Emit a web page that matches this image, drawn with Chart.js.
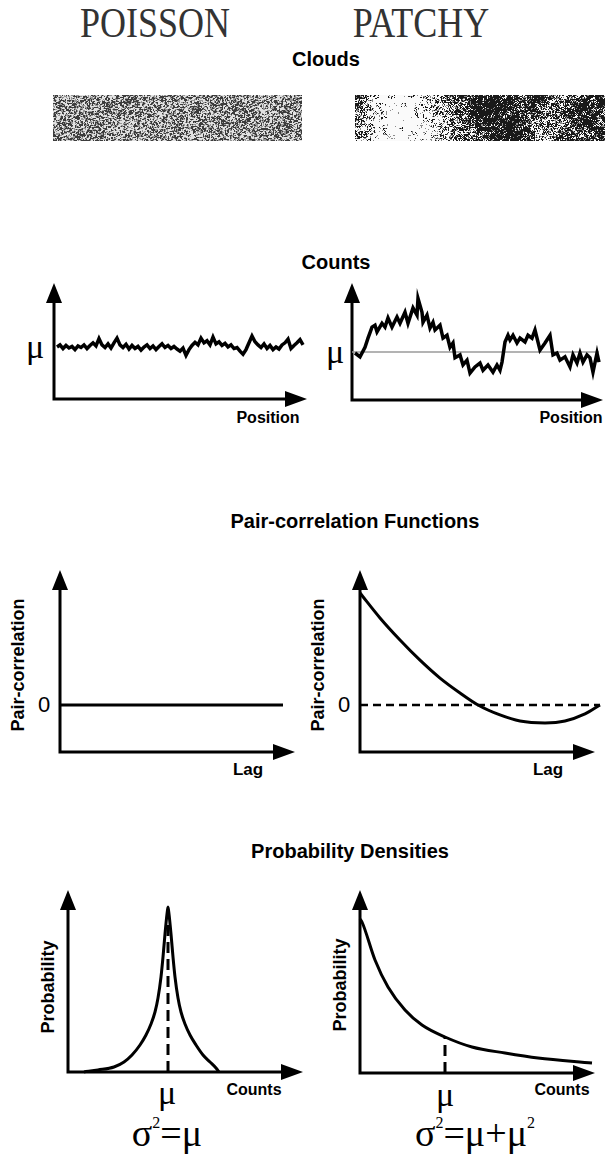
<!DOCTYPE html>
<html>
<head>
<meta charset="utf-8">
<script src="https://cdn.jsdelivr.net/npm/chart.js@4/dist/chart.umd.min.js"></script>
<style>
  body { margin: 0; background: #fff; }
  #page { position: relative; width: 605px; height: 1156px; overflow: hidden; font-family: "Liberation Sans", Arial, sans-serif; color: #000; }
  .t { position: absolute; transform: translate(-50%, -50%); white-space: nowrap; }
  .big { font-family: "Liberation Serif", serif; font-size: 36px; color: #333; transform: translate(-50%, -50%) scaleY(1.17); }
  .title { font-weight: bold; font-size: 20px; }
  .lab { font-weight: bold; font-size: 16px; }
  .rot { font-weight: bold; font-size: 18px; transform: translate(-50%, -50%) rotate(-90deg); }
  .mu { font-family: "Liberation Serif", serif; font-size: 34px; }
  .zero { font-size: 22px; }
  .sig { font-family: "Liberation Serif", serif; font-size: 38px; }
  .sig sup { font-size: 16px; vertical-align: 18px; }
  canvas { position: absolute; }
</style>
</head>
<body>
<div id="page">
  <div class="t big" style="left:155px;top:23px">POISSON</div>
  <div class="t big" style="left:421px;top:23px">PATCHY</div>
  <div class="t title" style="left:326px;top:59px">Clouds</div>
  <canvas id="cloudA" width="249" height="46" style="left:53px;top:95px"></canvas>
  <canvas id="cloudB" width="250" height="46" style="left:355px;top:95px"></canvas>

  <div class="t title" style="left:336px;top:262px">Counts</div>
  <div class="t mu" style="left:35px;top:347px">μ</div>
  <div class="t mu" style="left:335px;top:352px">μ</div>
  <div class="t lab" style="left:268px;top:418px">Position</div>
  <div class="t lab" style="left:571px;top:418px">Position</div>

  <div class="t title" style="left:355px;top:521px">Pair-correlation Functions</div>
  <div class="t rot" style="left:18px;top:665px">Pair-correlation</div>
  <div class="t rot" style="left:318px;top:665px">Pair-correlation</div>
  <div class="t zero" style="left:44px;top:705px">0</div>
  <div class="t zero" style="left:344px;top:705px">0</div>
  <div class="t lab" style="left:248px;top:770px;font-size:17px">Lag</div>
  <div class="t lab" style="left:548px;top:770px;font-size:17px">Lag</div>

  <div class="t title" style="left:350px;top:851px">Probability Densities</div>
  <div class="t rot" style="left:48px;top:987px">Probability</div>
  <div class="t rot" style="left:340px;top:985px">Probability</div>
  <div class="t mu" style="left:167px;top:1093px">μ</div>
  <div class="t mu" style="left:445px;top:1095px">μ</div>
  <div class="t lab" style="left:254px;top:1090px">Counts</div>
  <div class="t lab" style="left:562px;top:1090px">Counts</div>
  <div class="t sig" style="left:167px;top:1133px">σ<sup>2</sup>=μ</div>
  <div class="t sig" style="left:475px;top:1133px">σ<sup>2</sup>=μ+μ<sup>2</sup></div>
</div>

<script>
// --- donnees ---

// comptages Poisson (pas regulier le long de la position)
const poissonCounts = [100, 104, 97, 103, 98, 101, 95, 102, 99, 104,
  97, 103, 108, 102, 116, 104, 99, 106, 98, 108,
  117, 104, 99, 105, 96, 103, 97, 101, 94, 100,
  104, 97, 102, 95, 101, 106, 99, 103, 97, 101,
  96, 92, 98, 84, 95, 103, 109, 104, 117, 108,
  112, 104, 119, 106, 110, 103, 107, 100, 104, 97,
  99, 92, 86, 95, 108, 121, 110, 104, 99, 106,
  97, 103, 95, 100, 96, 104, 108, 115, 97, 103,
  108, 114, 104];

// comptages agreges (patchy)
const patchyPos = [3, 8, 13, 16, 20, 23, 25, 30, 33, 36, 40, 45, 48, 53, 56, 61, 65, 66, 70, 71,
  75, 78, 81, 83, 88, 91, 95, 98, 101, 103, 108, 111, 115, 118, 123, 128, 131, 136, 141, 145,
  148, 150, 153, 156, 158, 161, 165, 168, 173, 176, 180, 183, 188, 193, 198, 201, 205, 208,
  213, 218, 221, 225, 228, 231, 235, 238, 241, 245, 247];
const patchyCounts = [98, 90, 110, 129, 152, 156, 142, 160, 152, 171, 152, 173, 160, 183, 160,
  192, 177, 212, 183, 162, 177, 150, 162, 146, 156, 129, 135, 110, 119, 88, 94, 73, 83, 56, 69,
  77, 62, 73, 58, 73, 62, 79, 121, 135, 125, 135, 119, 129, 121, 135, 129, 146, 104, 119, 135,
  94, 98, 83, 90, 69, 94, 77, 98, 79, 94, 88, 58, 98, 79];
const meanCount = 100;

// fonctions de correlation
const poissonLag = [0, 223];
const poissonCorr = [0, 0];
const patchyLag = [0, 20, 40, 60, 80, 100, 118, 140, 160, 185, 205, 225, 240];
const patchyCorr = [1.0, 0.777, 0.58, 0.40, 0.24, 0.107, 0, -0.089, -0.143, -0.16, -0.143, -0.08, 0];

// densites de probabilite
const poissonX = [16, 30, 46, 56, 64, 72, 78, 83, 87, 90, 93, 95, 97, 99, 100,
  101, 103, 105, 107, 110, 113, 117, 122, 128, 135, 142, 148, 151];
const poissonP = [0, 0.002, 0.005, 0.010, 0.017, 0.027, 0.037, 0.048, 0.060, 0.074, 0.095, 0.115, 0.138, 0.158, 0.165,
  0.158, 0.138, 0.115, 0.095, 0.074, 0.060, 0.048, 0.037, 0.027, 0.017, 0.010, 0.004, 0];
const patchyX = [0, 2, 15, 28, 45, 62, 85, 112, 145, 178, 232];
const patchyP = [0.154, 0.151, 0.113, 0.086, 0.063, 0.048, 0.036, 0.026, 0.020, 0.015, 0.010];
const poissonMu = 100;
const patchyMu = 85;

// nuages patchy : densite de noir par zone (3 lignes x 13 colonnes)
const patchyCloud = [
  [0.7, 0.3, 0.12, 0.2, 0.45, 0.7, 0.75, 0.8, 0.6, 0.75, 0.45, 0.7, 0.8],
  [0.55, 0.2, 0.08, 0.18, 0.35, 0.55, 0.8, 0.7, 0.75, 0.5, 0.55, 0.75, 0.6],
  [0.5, 0.25, 0.12, 0.25, 0.3, 0.5, 0.65, 0.8, 0.7, 0.45, 0.7, 0.6, 0.75]
];

const PAD = 12;

function pts(xs, ys) {
  return xs.map((x, i) => ({ x: x, y: ys[i] }));
}

// axes avec fleches
const axesPlugin = {
  id: 'axes',
  beforeDatasetsDraw(chart) {
    const ctx = chart.ctx;
    const a = chart.chartArea;
    ctx.save();
    ctx.strokeStyle = '#000';
    ctx.fillStyle = '#000';
    ctx.lineWidth = 3;
    ctx.beginPath();
    ctx.moveTo(a.left, a.top + 16);
    ctx.lineTo(a.left, a.bottom);
    ctx.lineTo(a.right - 18, a.bottom);
    ctx.stroke();
    ctx.beginPath();
    ctx.moveTo(a.left, a.top);
    ctx.lineTo(a.left - 8, a.top + 20);
    ctx.lineTo(a.left + 8, a.top + 20);
    ctx.closePath();
    ctx.fill();
    ctx.beginPath();
    ctx.moveTo(a.right, a.bottom);
    ctx.lineTo(a.right - 22, a.bottom - 8);
    ctx.lineTo(a.right - 22, a.bottom + 8);
    ctx.closePath();
    ctx.fill();
    ctx.restore();
  }
};

// box = position de l'axe y, haut de la fleche, bout de la fleche x, axe x (en pixels de page)
function makeChart(box, xr, yr, datasets) {
  const c = document.createElement('canvas');
  const w = box.x1 - box.x0 + 2 * PAD;
  const h = box.y1 - box.y0 + 2 * PAD;
  c.width = w;
  c.height = h;
  c.style.left = (box.x0 - PAD) + 'px';
  c.style.top = (box.y0 - PAD) + 'px';
  document.getElementById('page').appendChild(c);
  return new Chart(c.getContext('2d'), {
    type: 'line',
    data: { datasets: datasets },
    options: {
      responsive: false,
      animation: false,
      layout: { padding: PAD },
      elements: { point: { radius: 0 } },
      plugins: { legend: { display: false }, tooltip: { enabled: false } },
      scales: {
        x: { type: 'linear', min: xr[0], max: xr[1], display: false },
        y: { type: 'linear', min: yr[0], max: yr[1], display: false }
      }
    },
    plugins: [axesPlugin]
  });
}

function solid(data, extra) {
  return Object.assign({ data: data, borderColor: '#000', borderWidth: 3, fill: false, clip: false, tension: 0 }, extra || {});
}

// Counts - Poisson
makeChart({ x0: 54, y0: 283, x1: 307, y1: 399 }, [-1, 83.33], [0, 223], [
  solid(poissonCounts.map((v, i) => ({ x: i, y: v })), { borderWidth: 3.5 })
]);

// Counts - Patchy
makeChart({ x0: 352, y0: 283, x1: 603, y1: 400 }, [0, 251], [0, 244], [
  solid(pts(patchyPos, patchyCounts), { borderWidth: 3.5 }),
  solid([{ x: 0, y: meanCount }, { x: 247, y: meanCount }], { borderColor: '#9a9a9a', borderWidth: 1.5 })
]);

// Pair-correlation - Poisson
makeChart({ x0: 60, y0: 570, x1: 295, y1: 752 }, [0, 235], [-0.42, 1.205], [
  solid(pts(poissonLag, poissonCorr))
]);

// Pair-correlation - Patchy
makeChart({ x0: 360, y0: 570, x1: 595, y1: 752 }, [0, 235], [-0.42, 1.205], [
  solid(pts(patchyLag, patchyCorr), { cubicInterpolationMode: 'monotone' }),
  solid([{ x: 0, y: 0 }, { x: 240, y: 0 }], { borderDash: [8, 5], borderWidth: 2.5 })
]);

// Probabilite - Poisson
makeChart({ x0: 68, y0: 890, x1: 303, y1: 1072 }, [0, 235], [0, 0.182], [
  solid(pts(poissonX, poissonP), { cubicInterpolationMode: 'monotone' }),
  solid([{ x: poissonMu, y: 0 }, { x: poissonMu, y: 0.155 }], { borderDash: [11, 6] })
]);

// Probabilite - Patchy
makeChart({ x0: 360, y0: 890, x1: 595, y1: 1073 }, [0, 235], [0, 0.183], [
  solid(pts(patchyX, patchyP), { cubicInterpolationMode: 'monotone' }),
  solid([{ x: patchyMu, y: 0 }, { x: patchyMu, y: 0.036 }], { borderDash: [11, 6] })
]);

// --- texture des nuages ---
function hash(x, y, s) {
  let h = Math.imul(x, 374761393) + Math.imul(y, 668265263) + Math.imul(s, 1442695041);
  h = Math.imul(h ^ (h >>> 13), 1274126177);
  h = h ^ (h >>> 16);
  return (h >>> 0) / 4294967296;
}

function drawCloud(id, darkAt) {
  const c = document.getElementById(id);
  const ctx = c.getContext('2d');
  const img = ctx.createImageData(c.width, c.height);
  for (let y = 0; y < c.height; y++) {
    for (let x = 0; x < c.width; x++) {
      const g = darkAt(x, y, c.width, c.height);
      const k = (y * c.width + x) * 4;
      img.data[k] = img.data[k + 1] = img.data[k + 2] = g;
      img.data[k + 3] = 255;
    }
  }
  ctx.putImageData(img, 0, 0);
}

drawCloud('cloudA', function (x, y) {
  const v = hash(x, y, 1) * 0.6 + hash(x + 1, y, 1) * 0.25 + hash(x, y + 1, 1) * 0.15;
  return v < 0.42 ? 60 : v < 0.58 ? 150 : 225;
});

drawCloud('cloudB', function (x, y, w, h) {
  const cols = patchyCloud[0].length, rows = patchyCloud.length;
  const fx = x / (w - 1) * (cols - 1), fy = y / (h - 1) * (rows - 1);
  const i = Math.min(Math.floor(fx), cols - 2), j = Math.min(Math.floor(fy), rows - 2);
  const u = fx - i, t = fy - j;
  const d = (patchyCloud[j][i] * (1 - u) + patchyCloud[j][i + 1] * u) * (1 - t) +
            (patchyCloud[j + 1][i] * (1 - u) + patchyCloud[j + 1][i + 1] * u) * t;
  const blob = hash(x >> 2, y >> 2, 7) * 0.35 + hash(x, y, 3) * 0.65;
  return blob < d - 0.05 ? 25 : blob < d + 0.05 ? 140 : 250;
});
</script>
</body>
</html>
